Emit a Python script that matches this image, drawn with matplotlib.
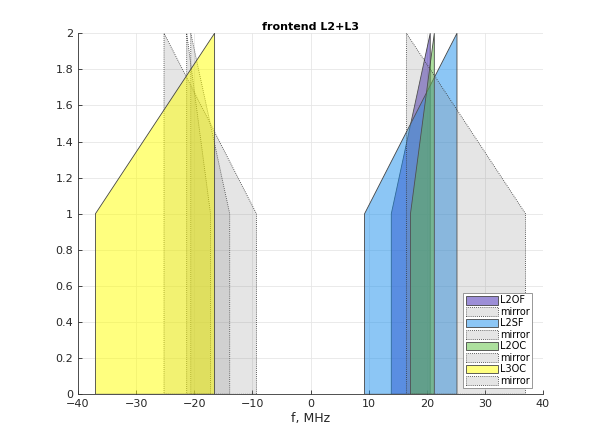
import matplotlib
matplotlib.use('Agg')
import matplotlib.pyplot as plt
from matplotlib.patches import Polygon
from matplotlib.ticker import FuncFormatter

# signal bands, MHz relative to LO
names = ['L2OF', 'L2SF', 'L2OC', 'L3OC']
f_lo = [13.9, 9.3, 17.2, -37.0]
f_hi = [20.6, 25.2, 21.3, -16.5]
colors = ['#3a1fb0', '#1a8fec', '#5cc23e', '#ffff00']

fig = plt.figure(figsize=(6.0, 4.43), dpi=100)
ax = fig.add_axes([0.13, 0.11, 0.775, 0.815])

dots = (0, (1, 1.5))
handles = []
for name, lo, hi, c in zip(names, f_lo, f_hi, colors):
    pts = [(lo, 0), (hi, 0), (hi, 2), (lo, 1)]
    ax.add_patch(Polygon(pts, closed=True, facecolor=c, alpha=0.5, edgecolor='none'))
    ax.add_patch(Polygon(pts, closed=True, fill=False, edgecolor='#444444', lw=0.6))
    handles.append(Polygon([(0, 0)], facecolor=(*matplotlib.colors.to_rgb(c), 0.5),
                           edgecolor='#444444', lw=0.6, label=name))
    # mirror image around LO
    mpts = [(-x, y) for x, y in pts]
    ax.add_patch(Polygon(mpts, closed=True, facecolor='#7f7f7f', alpha=0.2, edgecolor='none'))
    ax.add_patch(Polygon(mpts, closed=True, fill=False, edgecolor='#333333', lw=0.6, ls=dots))
    handles.append(Polygon([(0, 0)], facecolor=(0.5, 0.5, 0.5, 0.2), edgecolor='#333333', lw=0.6,
                           ls=dots, label='mirror'))

ax.set_xlim(-40, 40)
ax.set_ylim(0, 2)
ax.set_xticks(range(-40, 41, 10))
ax.set_yticks([i * 0.2 for i in range(11)])
ax.yaxis.set_major_formatter(FuncFormatter(lambda v, p: ('%g' % round(v, 1))))
ax.grid(True, color='#e6e6e6', lw=0.6)
ax.set_axisbelow(True)
for s in ['top', 'right']:
    ax.spines[s].set_visible(False)
for s in ['left', 'bottom']:
    ax.spines[s].set_color('#333333')
    ax.spines[s].set_linewidth(0.6)
ax.tick_params(direction='in', length=3, width=0.6, labelsize=8, colors='#262626')
ax.set_title('frontend L2+L3', fontsize=8, fontweight='bold', pad=2)
ax.set_xlabel('f, MHz', fontsize=9, color='#262626', labelpad=2)

leg = ax.legend(handles=handles, loc='lower right', bbox_to_anchor=(0.976, 0.017),
                fontsize=7, handlelength=3.3, handleheight=1.0, handletextpad=0.2,
                borderpad=0.25, labelspacing=0.15, borderaxespad=0, fancybox=False,
                framealpha=1)
leg.get_frame().set_edgecolor('#888888')
leg.get_frame().set_linewidth(0.6)

fig.savefig('out.png')
